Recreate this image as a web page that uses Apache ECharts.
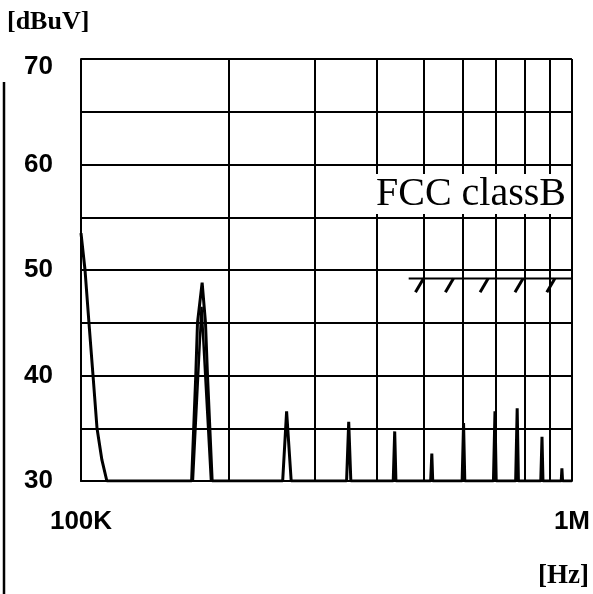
<!DOCTYPE html>
<html>
<head>
<meta charset="utf-8">
<script src="https://cdn.jsdelivr.net/npm/echarts@6/dist/echarts.min.js"></script>
<style>
  html, body { margin: 0; padding: 0; background: #fff; }
  #chart { width: 593px; height: 594px; }
</style>
</head>
<body>
<div id="chart"></div>
<script>
  // 频谱数据 (Hz, dBuV)
  const specFreq = [
    100000, 101900, 103800, 105800, 107800, 110300, 112900,
    168000, 171300, 172700, 176500, 179300, 181000, 185000,
    257500, 262300, 268000,
    347500, 351000, 354500,
    432500, 435500, 438000,
    515500, 518300, 520500,
    597500, 601500, 605000,
    692000, 697000, 701000,
    768000, 773500, 778000,
    864000, 869000, 873000,
    951000, 954000, 957000,
    1000000
  ];
  const specLevel = [
    53.5, 50, 45, 40, 35, 32, 30,
    30, 40, 45, 48.8, 45, 40, 30,
    30, 36.6, 30,
    30, 35.6, 30,
    30, 34.7, 30,
    30, 32.6, 30,
    30, 35.5, 30,
    30, 36.6, 30,
    30, 36.9, 30,
    30, 34.2, 30,
    30, 31.2, 30,
    30
  ];
  // 第二条迹线 (峰内侧)
  const innerFreq = [169000, 176000, 184000];
  const innerLevel = [30, 46.5, 30];

  // FCC classB 限值线
  const limitFreq = [465000, 1000000];
  const limitLevel = [49.2, 49.2];
  const hatchFreq = [498500, 573600, 675000, 795000, 923000];
  const hatchLow = 47.9;

  // 坐标轴
  const gridFreq = [200000, 300000, 400000, 500000, 600000, 700000, 800000, 900000];
  const xTickValues = [100000, 1000000];
  const xTickNames = ['100K', '1M'];

  const labelFont = '"Liberation Sans", sans-serif';

  const chart = echarts.init(document.getElementById('chart'));

  const option = {
    animation: false,
    grid: { left: 81, right: 19, top: 59, bottom: 113 },
    xAxis: {
      type: 'log',
      logBase: 10,
      min: 100000,
      max: 1000000,
      axisLine: { lineStyle: { color: '#000', width: 2 } },
      axisTick: { show: false },
      splitLine: { show: true, lineStyle: { color: '#000', width: 2 } },
      axisLabel: {
        margin: 28,
        color: '#000',
        fontFamily: labelFont,
        fontWeight: 'bold',
        fontSize: 26,
        formatter: function (v) {
          const i = xTickValues.indexOf(Math.round(v));
          return i >= 0 ? xTickNames[i] : '';
        }
      }
    },
    yAxis: {
      type: 'value',
      min: 30,
      max: 70,
      interval: 5,
      axisLine: { show: true, lineStyle: { color: '#000', width: 2 } },
      axisTick: { show: false },
      splitLine: { show: true, lineStyle: { color: '#000', width: 2 } },
      axisLabel: {
        margin: 28,
        color: '#000',
        fontFamily: labelFont,
        fontWeight: 'bold',
        fontSize: 26,
        formatter: function (v) {
          if (v % 10 !== 0) return '';
          return v === 70 ? '{top|70}' : String(v);
        },
        rich: {
          top: {
            padding: [16, 0, 0, 0],
            color: '#000',
            fontFamily: labelFont,
            fontWeight: 'bold',
            fontSize: 26
          }
        }
      }
    },
    series: [
      {
        type: 'line',
        data: specFreq.map((f, i) => [f, specLevel[i]]),
        symbol: 'none',
        lineStyle: { color: '#000', width: 3 },
        z: 5,
        markLine: {
          silent: true,
          symbol: ['none', 'none'],
          label: { show: false },
          lineStyle: { color: '#000', width: 2, type: 'solid' },
          data: gridFreq.map(f => ({ xAxis: f }))
        }
      },
      {
        type: 'line',
        data: innerFreq.map((f, i) => [f, innerLevel[i]]),
        symbol: 'none',
        lineStyle: { color: '#000', width: 2.5 },
        z: 5
      },
      {
        type: 'line',
        data: limitFreq.map((f, i) => [f, limitLevel[i]]),
        symbol: 'none',
        lineStyle: { color: '#000', width: 2 },
        z: 6,
        markLine: {
          silent: true,
          symbol: ['none', 'none'],
          label: { show: false },
          lineStyle: { color: '#000', width: 3, type: 'solid' },
          data: hatchFreq.map(f => [
            { coord: [f, limitLevel[0]] },
            { coord: [f * 0.963, hatchLow] }
          ])
        }
      }
    ],
    graphic: [
      {
        type: 'line',
        shape: { x1: 4, y1: 82, x2: 4, y2: 594 },
        style: { stroke: '#000', lineWidth: 2.5 }
      },
      {
        type: 'text',
        left: 7,
        top: 9,
        style: {
          text: '[dBuV]',
          fill: '#000',
          font: 'bold 26px "Liberation Serif", serif'
        }
      },
      {
        type: 'text',
        left: 538,
        top: 563,
        style: {
          text: '[Hz]',
          fill: '#000',
          font: 'bold 27px "Liberation Serif", serif'
        }
      },
      {
        type: 'text',
        left: 372,
        top: 174,
        z: 10,
        style: {
          text: 'FCC classB',
          fill: '#000',
          font: '40px "Liberation Serif", serif',
          backgroundColor: '#fff',
          padding: [0, 4]
        }
      }
    ]
  };

  chart.setOption(option);
</script>
</body>
</html>
